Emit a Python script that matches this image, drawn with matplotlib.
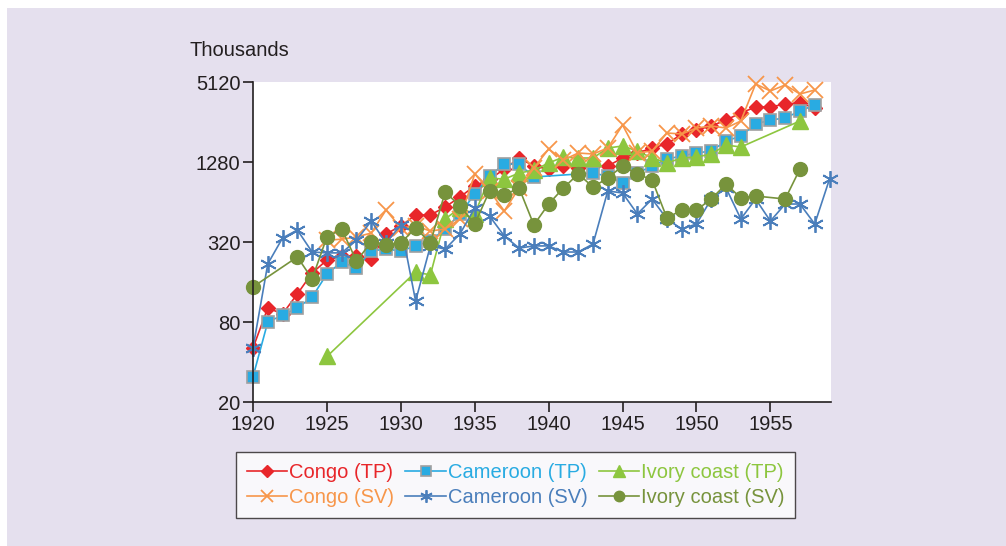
import matplotlib
matplotlib.use("Agg")
import matplotlib.pyplot as plt
from matplotlib.patches import Rectangle

plt.rcParams["font.family"] = ["Liberation Sans", "DejaVu Sans"]

# values in thousands
congo_tp_years = list(range(1920, 1959))
congo_tp = [51, 102, 92, 130, 187, 234, 250, 251, 238, 368, 422, 511, 511, 587, 698,
            845, 950, 1130, 1372, 1194, 1130, 1194, 1160, 1194, 1194, 1372, 1496, 1631,
            1749, 2079, 2229, 2389, 2650, 2992, 3320, 3320, 3498, 3560, 3265]

cam_tp_years = list(range(1920, 1940)) + list(range(1943, 1959))
cam_tp = [31, 80, 90, 102, 123, 184, 226, 204, 274, 283, 274, 299, 326, 401, 520,
          735, 1004, 1236, 1236, 987, 1058, 1000, 890, 1058, 1194, 1348, 1420, 1496,
          1549, 1842, 2008, 2473, 2650, 2744, 3098, 3437]

ivory_tp_years = [1925] + list(range(1931, 1954)) + [1957]
ivory_tp = [44, 190, 181, 477, 577, 520, 970, 950, 1058, 1110, 1258, 1396, 1372, 1372,
            1631, 1689, 1549, 1372, 1258, 1372, 1396, 1470, 1718, 1660, 2605]

congo_sv_years = list(range(1925, 1959))
congo_sv = [330, 336, 349, 374, 557, 408, 422, 387, 401, 477, 1040, 775, 548, 816,
            1153, 1603, 1325, 1496, 1470, 1631, 2430, 1496, 1549, 2116, 2079, 2307,
            2389, 2307, 2605, 4946, 4382, 4863, 4158, 4457]

cam_sv_years = list(range(1920, 1960))
cam_sv = [51, 219, 343, 394, 269, 265, 265, 330, 460, 315, 430, 115, 299, 283, 368,
          577, 502, 355, 288, 299, 299, 269, 269, 309, 775, 748, 520, 674, 477, 401,
          437, 674, 816, 477, 674, 460, 618, 618, 437, 953]

ivory_sv_years = [1920] + list(range(1923, 1955)) + [1956, 1957]
ivory_sv = [147, 247, 169, 349, 401, 230, 320, 304, 315, 408, 315, 761, 597, 437, 775,
            723, 816, 430, 618, 816, 1040, 830, 970, 1194, 1040, 937, 485, 557, 557,
            674, 874, 686, 710, 674, 1134]

y_ticks = [20, 80, 320, 1280, 5120]
x_ticks = list(range(1920, 1960, 5))

FS = 14.5
fig = plt.figure(figsize=(10.06, 5.46), dpi=100, facecolor="white")
fig.patches.append(Rectangle((7 / 1006, 0), 1, 1 - 8 / 546, transform=fig.transFigure,
                             facecolor="#e5e0ee", edgecolor="none", zorder=-10))
ax = fig.add_axes([253 / 1006, 1 - 402 / 546, 578 / 1006, 320 / 546])
ax.set_facecolor("white")

series = [
    (congo_tp_years, congo_tp, "Congo (TP)", "#e8262a",
     dict(marker="D", ms=7.5, mec="#e8262a")),
    (cam_tp_years, cam_tp, "Cameroon (TP)", "#29abe2",
     dict(marker="s", ms=9, mec="#a0a0a0", mew=1.2)),
    (ivory_tp_years, ivory_tp, "Ivory coast (TP)", "#8dc63f",
     dict(marker="^", ms=12, mec="#8dc63f")),
    (congo_sv_years, congo_sv, "Congo (SV)", "#f7964a",
     dict(marker="x", ms=11, mew=1.3)),
    (cam_sv_years, cam_sv, "Cameroon (SV)", "#4a7ebb",
     dict(marker=(6, 2, 0), ms=12, mew=1.3)),
    (ivory_sv_years, ivory_sv, "Ivory coast (SV)", "#77933c",
     dict(marker="o", ms=10, mec="#77933c")),
]
lines = {}
for yrs, vals, name, col, mk in series:
    ln, = ax.plot(yrs, vals, color=col, lw=1.2, label=name, clip_on=False, **mk)
    lines[name] = ln

ax.set_yscale("log", base=2)
ax.set_ylim(20, 5120)
ax.set_xlim(1920, 1959.1)
ax.set_yticks(y_ticks)
ax.set_yticklabels([str(v) for v in y_ticks])
ax.minorticks_off()
ax.set_xticks(x_ticks)
for s in ["top", "right"]:
    ax.spines[s].set_visible(False)
for s in ["left", "bottom"]:
    ax.spines[s].set_color("#231f20")
    ax.spines[s].set_linewidth(1.2)
ax.tick_params(direction="out", length=7, width=1.2, color="#231f20",
               labelsize=FS, labelcolor="#231f20", pad=2)

fig.text(190 / 1006, 1 - 50 / 546, "Thousands", fontsize=FS, color="#231f20",
         ha="left", va="center")

order = ["Congo (TP)", "Congo (SV)", "Cameroon (TP)", "Cameroon (SV)",
         "Ivory coast (TP)", "Ivory coast (SV)"]
leg = fig.legend([lines[n] for n in order], order, ncol=3, loc="upper left",
                 bbox_to_anchor=(236 / 1006, 1 - 452 / 546), borderaxespad=0,
                 fontsize=FS, labelcolor="linecolor", frameon=True, fancybox=False,
                 edgecolor="#231f20", handlelength=2.0, handletextpad=0.1,
                 columnspacing=0.55, borderpad=0.55, labelspacing=0.3,
                 markerscale=0.75)
leg.get_frame().set_linewidth(1.0)

fig.savefig("out.png", dpi=100, facecolor=fig.get_facecolor())
